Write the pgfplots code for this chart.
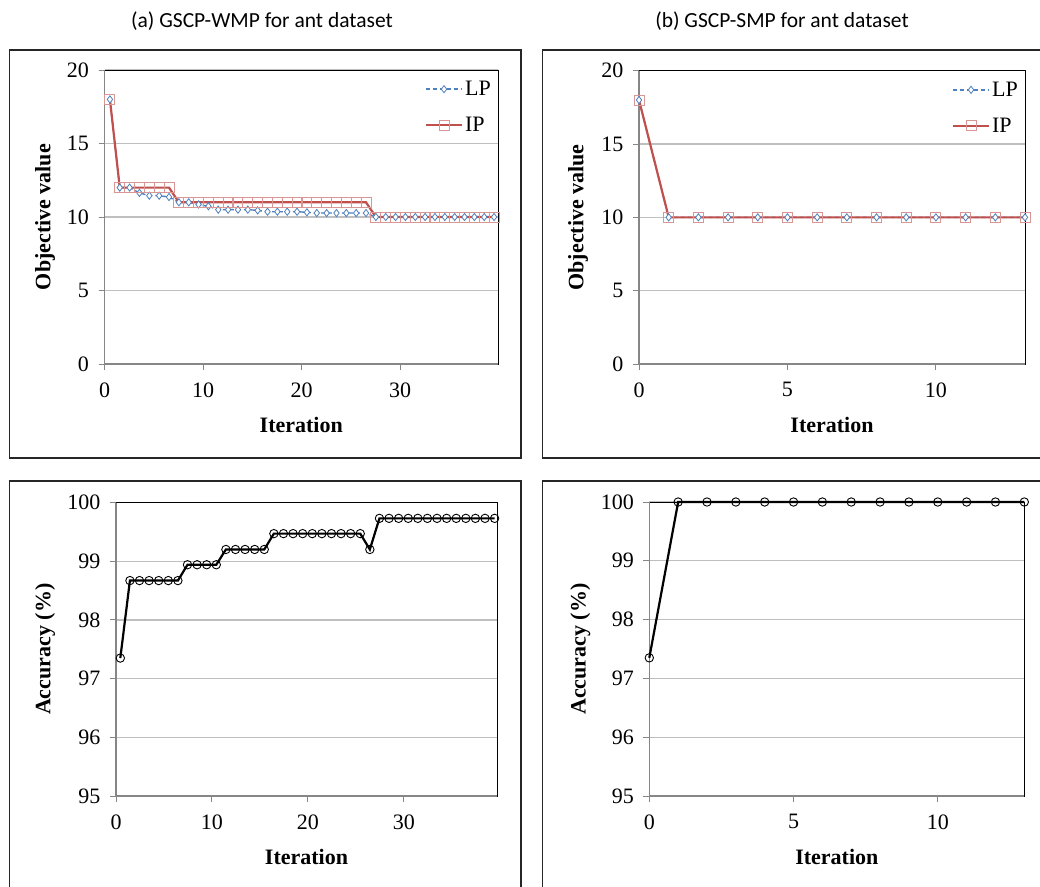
\documentclass[border=0pt]{standalone}
\usepackage{pgfplots}
\pgfplotsset{compat=1.18}
\usepackage{fontspec}
\setmainfont{Liberation Serif}
\newfontfamily\calibri{Carlito}

\definecolor{lpblue}{HTML}{4F81BD}
\definecolor{ipred}{HTML}{C0504D}
\definecolor{axgray}{HTML}{868686}
\definecolor{gridgray}{HTML}{BFBFBF}

\pgfplotsset{
  panel/.style={
    scale only axis, anchor=south west, clip=false,
    axis line style={black, line width=0.9pt},
    tick pos=left, tick align=outside, major tick length=6pt,
    tick style={axgray, line width=1pt},
    ymajorgrids, major grid style={gridgray, line width=1.3pt},
    tick label style={font=\fontsize{22}{24}\selectfont},
    label style={font=\bfseries\fontsize{22}{24}\selectfont},
    /pgf/number format/assume math mode=true,
    xticklabel style={yshift=-9pt},
    yticklabel style={xshift=-6pt},
    xlabel={Iteration},
    xlabel style={at={(axis description cs:0.5,0)}, anchor=center, yshift=-61pt},
    legend style={draw=none, fill=none, at={(axis description cs:1,1)}, anchor=north east,
      xshift=-2pt, yshift=-7pt, font=\fontsize{22}{24}\selectfont, row sep=16pt,
      nodes={inner sep=2pt}},
    legend cell align=left,
    legend image code/.code={\draw[mark repeat=2,mark phase=2,##1] plot coordinates {(0pt,0pt) (18pt,0pt) (36pt,0pt)};},
  },
  lp/.style={lpblue, line width=1.4pt, dash pattern=on 4pt off 3pt, mark=diamond*, mark size=3.6pt,
    mark options={solid, fill=white, draw=lpblue, line width=0.8pt}},
  ip/.style={ipred, line width=2.2pt, mark=square, mark size=5pt,
    mark options={solid, draw=ipred!60, line width=1pt}},
  acc/.style={black, line width=2.2pt, mark=o, mark size=4.2pt,
    mark options={solid, draw=black, line width=0.9pt}},
}

\begin{document}
\begin{tikzpicture}
\path[use as bounding box] (0pt,0pt) rectangle (1040pt,-886pt);

% titles
\node[font=\calibri\fontsize{21.5}{24}\selectfont] at (262pt,-21pt) {(a) GSCP-WMP for ant dataset};
\node[font=\calibri\fontsize{21.5}{24}\selectfont] at (782pt,-21pt) {(b) GSCP-SMP for ant dataset};

% chart frames
\draw[black!85, line width=1.2pt] (9.5pt,-50pt) rectangle (521pt,-458pt);
\draw[black!85, line width=1.2pt] (1050pt,-50pt) -- (542.7pt,-50pt) -- (542.7pt,-458pt) -- (1050pt,-458pt);
\draw[black!85, line width=1.2pt] (9.5pt,-900pt) -- (9.5pt,-481pt) -- (521pt,-481pt) -- (521pt,-900pt);
\draw[black!85, line width=1.2pt] (542.7pt,-900pt) -- (542.7pt,-481pt) -- (1050pt,-481pt);

% (a) objective value
\begin{axis}[panel, at={(104.5pt,-364pt)}, width=393.5pt, height=294pt,
  xmin=0, xmax=39.95, ymin=0, ymax=20, xtick={0,10,20,30}, ytick={0,5,10,15,20},
  ylabel={Objective value}, ylabel style={at={(axis description cs:-0.151,0.5)}, anchor=center}]
\draw[axgray, line width=1.3pt] (axis description cs:0,1) -- (axis description cs:0,0) -- (axis description cs:1,0);
\addplot[lp] coordinates {
(0.55,18) (1.55,12) (2.55,12) (3.55,11.64) (4.55,11.45) (5.55,11.45) (6.55,11.36) (7.55,11.0)
(8.55,11.0) (9.55,10.85) (10.55,10.73) (11.55,10.5) (12.55,10.5) (13.55,10.5) (14.55,10.5) (15.55,10.45)
(16.55,10.36) (17.55,10.36) (18.55,10.36) (19.55,10.36) (20.55,10.32) (21.55,10.27) (22.55,10.27) (23.55,10.27)
(24.55,10.27) (25.55,10.27) (26.55,10.27) (27.55,10) (28.55,10) (29.55,10) (30.55,10) (31.55,10)
(32.55,10) (33.55,10) (34.55,10) (35.55,10) (36.55,10) (37.55,10) (38.55,10) (39.55,10)};
\addplot[ip] coordinates {
(0.55,18) (1.55,12) (2.55,12) (3.55,12) (4.55,12) (5.55,12) (6.55,12) (7.55,11)
(8.55,11) (9.55,11) (10.55,11) (11.55,11) (12.55,11) (13.55,11) (14.55,11) (15.55,11)
(16.55,11) (17.55,11) (18.55,11) (19.55,11) (20.55,11) (21.55,11) (22.55,11) (23.55,11)
(24.55,11) (25.55,11) (26.55,11) (27.55,10) (28.55,10) (29.55,10) (30.55,10) (31.55,10)
(32.55,10) (33.55,10) (34.55,10) (35.55,10) (36.55,10) (37.55,10) (38.55,10) (39.55,10)};
\legend{LP, IP}
\end{axis}

% (b) objective value
\begin{axis}[panel, at={(639pt,-364pt)}, width=386pt, height=293.3pt,
  xmin=0, xmax=13, ymin=0, ymax=20, xtick={0,5,10}, ytick={0,5,10,15,20},
  ylabel={Objective value}, ylabel style={at={(axis description cs:-0.158,0.5)}, anchor=center}]
\draw[axgray, line width=1.3pt] (axis description cs:0,1) -- (axis description cs:0,0) -- (axis description cs:1,0);
\addplot[lp] coordinates {
(0,18) (1,10) (2,10) (3,10) (4,10) (5,10) (6,10) (7,10) (8,10) (9,10) (10,10) (11,10) (12,10) (13,10)};
\addplot[ip] coordinates {
(0,18) (1,10) (2,10) (3,10) (4,10) (5,10) (6,10) (7,10) (8,10) (9,10) (10,10) (11,10) (12,10) (13,10)};
\legend{LP, IP}
\end{axis}

% (a) accuracy
\begin{axis}[panel, at={(116pt,-796pt)}, width=381pt, height=293.5pt,
  xmin=0, xmax=39.7, ymin=95, ymax=100, xtick={0,10,20,30}, ytick={95,96,97,98,99,100},
  ylabel={Accuracy (\%)}, ylabel style={at={(axis description cs:-0.186,0.5)}, anchor=center}]
\draw[axgray, line width=1.3pt] (axis description cs:0,1) -- (axis description cs:0,0) -- (axis description cs:1,0);
\addplot[acc] coordinates {
(0.45,97.35) (1.45,98.67) (2.45,98.67) (3.45,98.67) (4.45,98.67) (5.45,98.67) (6.45,98.67) (7.45,98.94)
(8.45,98.94) (9.45,98.94) (10.45,98.94) (11.45,99.20) (12.45,99.20) (13.45,99.20) (14.45,99.20) (15.45,99.20)
(16.45,99.47) (17.45,99.47) (18.45,99.47) (19.45,99.47) (20.45,99.47) (21.45,99.47) (22.45,99.47) (23.45,99.47)
(24.45,99.47) (25.45,99.47) (26.45,99.20) (27.45,99.73) (28.45,99.73) (29.45,99.73) (30.45,99.73) (31.45,99.73)
(32.45,99.73) (33.45,99.73) (34.45,99.73) (35.45,99.73) (36.45,99.73) (37.45,99.73) (38.45,99.73) (39.45,99.73)};
\end{axis}

% (b) accuracy
\begin{axis}[panel, at={(649.3pt,-796pt)}, width=375pt, height=294pt,
  xmin=0, xmax=13, ymin=95, ymax=100, xtick={0,5,10}, ytick={95,96,97,98,99,100},
  ylabel={Accuracy (\%)}, ylabel style={at={(axis description cs:-0.184,0.5)}, anchor=center}]
\draw[axgray, line width=1.3pt] (axis description cs:0,1) -- (axis description cs:0,0) -- (axis description cs:1,0);
\addplot[acc] coordinates {
(0,97.35) (1,100) (2,100) (3,100) (4,100) (5,100) (6,100) (7,100) (8,100) (9,100) (10,100) (11,100) (12,100) (13,100)};
\end{axis}
\end{tikzpicture}
\end{document}
